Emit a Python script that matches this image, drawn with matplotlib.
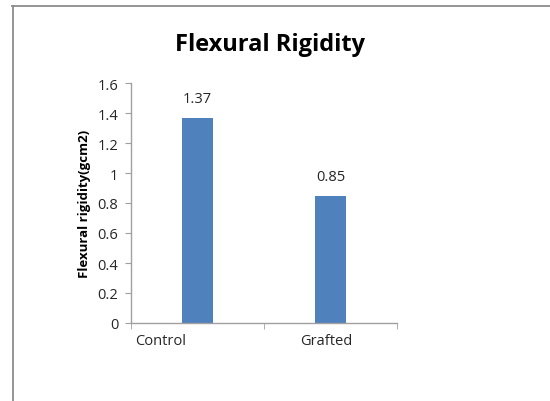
import matplotlib

matplotlib.use("Agg")
import matplotlib.pyplot as plt
from matplotlib.lines import Line2D

categories = ["Control", "Grafted"]
values = [1.37, 0.85]
value_labels = ["1.37", "0.85"]
y_ticks = [0, 0.2, 0.4, 0.6, 0.8, 1.0, 1.2, 1.4, 1.6]
y_tick_labels = ["0", "0.2", "0.4", "0.6", "0.8", "1", "1.2", "1.4", "1.6"]

plt.rcParams["font.family"] = ["Open Sans", "DejaVu Sans"]

fig = plt.figure(figsize=(5.5, 4.02), dpi=100)
ax = fig.add_axes([131 / 550, 1 - 324 / 402, 266 / 550, 240 / 402])

x = list(range(len(categories)))
ax.bar(x, values, width=0.235, color="#4F81BD", zorder=2)
for xi, v, lab in zip(x, values, value_labels):
    ax.annotate(lab, (xi, v), xytext=(0, 8), textcoords="offset points",
                ha="center", va="bottom", fontsize=10.5, color="#262626")

ax.set_xlim(-0.5, len(categories) - 0.5)
ax.set_ylim(0, 1.6)
ax.set_yticks(y_ticks)
ax.set_yticklabels(y_tick_labels, fontsize=10.5, color="#262626")

# category labels sit a little off the bar centres, as in the source
ax.set_xticks([-0.28, 0.97])
ax.set_xticklabels(categories, fontsize=10.5, color="#262626")
ax.tick_params(axis="x", which="major", length=0, pad=7)
ax.set_xticks([-0.5, 0.5, 1.5], minor=True)
ax.tick_params(axis="x", which="minor", length=4, color="#A0A0A0", direction="out")
ax.tick_params(axis="y", length=4, color="#A0A0A0", direction="out", pad=5)

for side in ("top", "right"):
    ax.spines[side].set_visible(False)
for side in ("left", "bottom"):
    ax.spines[side].set_color("#A0A0A0")
    ax.spines[side].set_linewidth(1)

ax.set_ylabel("Flexural rigidity(gcm2)", fontsize=9.5, fontweight="bold",
              color="#000000", labelpad=5)

fig.text(270 / 550, 1 - 45 / 402, "Flexural Rigidity", ha="center", va="center",
         fontsize=17, fontweight="bold", color="#000000")

# outer frame: only top and left edges show
fig.add_artist(Line2D([12 / 550, 1], [1 - 6.5 / 402] * 2, color="#8C8C8C", lw=1.3))
fig.add_artist(Line2D([12.5 / 550] * 2, [0, 1 - 6.5 / 402], color="#8C8C8C", lw=1.3))

fig.savefig("out.png", dpi=100)
